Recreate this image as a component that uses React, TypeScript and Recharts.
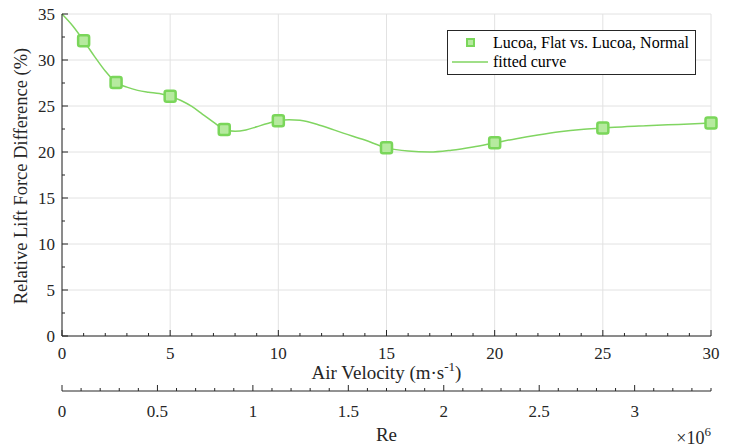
import React from "react";
import {
  ComposedChart,
  Line,
  Scatter,
  XAxis,
  YAxis,
  CartesianGrid,
  Legend,
} from "recharts";

// measured points
const velocity = [1, 2.5, 5, 7.5, 10, 15, 20, 25, 30];
const liftDiff = [32.1, 27.55, 26.05, 22.45, 23.4, 20.45, 21.0, 22.6, 23.15];

// fitted curve, sampled
const fitVelocity = [
  0, 0.5, 1, 1.5, 2, 2.5, 3, 3.5, 4, 4.5, 5, 5.5, 6, 6.5, 7, 7.5, 8, 8.5, 9, 9.5,
  10, 10.5, 11, 12, 13, 14, 15, 16, 17, 18, 19, 20, 21, 22, 23, 24, 25, 26, 27,
  28, 29, 30,
];
const fitDiff = [
  35, 33.7, 32.1, 30.4, 28.8, 27.55, 27.05, 26.7, 26.5, 26.35, 26.05, 25.6,
  24.95, 24.1, 23.25, 22.45, 22.25, 22.4, 22.75, 23.1, 23.4, 23.5, 23.45, 22.85,
  22.05, 21.3, 20.45, 20.1, 20.0, 20.2, 20.55, 21.0, 21.45, 21.85, 22.2, 22.45,
  22.6, 22.75, 22.85, 22.95, 23.05, 23.15,
];

const velocityMajor = [0, 5, 10, 15, 20, 25, 30];
const diffMajor = [0, 5, 10, 15, 20, 25, 30, 35];
const reMajor = [0, 0.5, 1, 1.5, 2, 2.5, 3];
const reMax = 3.4;

// minor ticks: every 1 m/s, every 2.5 %, every 0.1e6
const velocityTicks = Array.from({ length: 31 }, (_, i) => i);
const diffTicks = Array.from({ length: 15 }, (_, i) => i * 2.5);
const reTicks = Array.from({ length: 35 }, (_, i) => i / 10);

const measured = velocity.map((v, i) => ({ x: v, y: liftDiff[i] }));
const fitted = fitVelocity.map((v, i) => ({ x: v, y: fitDiff[i] }));
// anchors the Re axis so it gets a scale; nothing is drawn for it
const reAnchor = [0, reMax].map((r) => ({ re: r, y: 0 }));

const SERIF = "Liberation Serif, Tinos, Times New Roman, DejaVu Serif, serif";
const AXIS = "#262626";
const GRID = "#e2e2e2";
const LINE = "#80d561";
const MARK_EDGE = "#7ad65a";
const MARK_FILL = "#b6ea9f";

const isMajor = (v: number, list: number[]) =>
  list.some((m) => Math.abs(m - v) < 1e-6);

function VelocityTick({ x, y, payload }: any) {
  const major = isMajor(payload.value, velocityMajor);
  return (
    <g>
      <line x1={x} y1={y} x2={x} y2={y - (major ? 6 : 3)} stroke={AXIS} />
      {major && (
        <text x={x} y={y + 23} textAnchor="middle" style={{ fontFamily: SERIF }} fontSize={17} fill={AXIS}>
          {payload.value}
        </text>
      )}
    </g>
  );
}

function ReTick({ x, y, payload }: any) {
  const major = isMajor(payload.value, reMajor);
  return (
    <g>
      <line x1={x} y1={y} x2={x} y2={y - (major ? 6 : 3)} stroke={AXIS} />
      {major && (
        <text x={x} y={y + 26} textAnchor="middle" style={{ fontFamily: SERIF }} fontSize={17} fill={AXIS}>
          {payload.value}
        </text>
      )}
    </g>
  );
}

function DiffTick({ x, y, payload }: any) {
  const major = isMajor(payload.value, diffMajor);
  return (
    <g>
      <line x1={x} y1={y} x2={x + (major ? 6 : 3)} y2={y} stroke={AXIS} />
      {major && (
        <text x={x - 7} y={y} dy="0.35em" textAnchor="end" style={{ fontFamily: SERIF }} fontSize={17} fill={AXIS}>
          {payload.value}
        </text>
      )}
    </g>
  );
}

function SquareMarker({ cx, cy }: any) {
  return (
    <rect
      x={cx - 5.5}
      y={cy - 5.5}
      width={11}
      height={11}
      rx={2}
      fill={MARK_FILL}
      stroke={MARK_EDGE}
      strokeWidth={2.5}
    />
  );
}

function LegendBox() {
  return (
    <div
      style={{
        border: `1px solid ${AXIS}`,
        background: "#fff",
        padding: "2px 6px 3px 0",
        fontFamily: SERIF,
        fontSize: 16,
        color: "#000",
        lineHeight: "19px",
      }}
    >
      <div style={{ display: "flex", alignItems: "center" }}>
        <svg width={45} height={19}>
          <rect x={19} y={6} width={7} height={7} fill={MARK_FILL} stroke={MARK_EDGE} strokeWidth={2} />
        </svg>
        <span>Lucoa, Flat vs. Lucoa, Normal</span>
      </div>
      <div style={{ display: "flex", alignItems: "center" }}>
        <svg width={45} height={19}>
          <line x1={4} y1={10} x2={40} y2={10} stroke={LINE} strokeWidth={1.5} />
        </svg>
        <span>fitted curve</span>
      </div>
    </div>
  );
}

export default function App() {
  return (
    <div style={{ position: "absolute", left: 0, top: 0, background: "#fff", fontFamily: SERIF }}>
      <ComposedChart width={733} height={448} margin={{ top: 14, right: 22, bottom: 7, left: 0 }}>
        <CartesianGrid
          stroke={GRID}
          horizontalValues={diffMajor}
          verticalValues={velocityMajor}
        />
        <XAxis
          xAxisId={0}
          dataKey="x"
          type="number"
          domain={[0, 30]}
          ticks={velocityTicks}
          interval={0}
          tickSize={0}
          tickMargin={0}
          tick={<VelocityTick />}
          stroke={AXIS}
          height={55}
          label={{
            content: ({ viewBox }: any) => (
              <text
                x={viewBox.x + viewBox.width / 2}
                y={viewBox.y + 43}
                textAnchor="middle"
                style={{ fontFamily: SERIF }}
                fontSize={19}
                fill={AXIS}
              >
                Air Velocity (m·s
                <tspan dy={-8} fontSize={13}>-1</tspan>
                <tspan dy={8}>)</tspan>
              </text>
            ),
          }}
        />
        <XAxis
          xAxisId="re"
          dataKey="re"
          type="number"
          domain={[0, reMax]}
          allowDataOverflow
          ticks={reTicks}
          interval={0}
          tickSize={0}
          tickMargin={0}
          tick={<ReTick />}
          stroke={AXIS}
          height={50}
          label={{
            content: ({ viewBox }: any) => (
              <g>
                <text
                  x={viewBox.x + viewBox.width / 2}
                  y={viewBox.y + 50}
                  textAnchor="middle"
                  style={{ fontFamily: SERIF }}
                  fontSize={19}
                  fill={AXIS}
                >
                  Re
                </text>
                <text
                  x={viewBox.x + viewBox.width}
                  y={viewBox.y + 53}
                  textAnchor="end"
                  style={{ fontFamily: SERIF }}
                  fontSize={18}
                  fill={AXIS}
                >
                  ×10
                  <tspan dy={-8} fontSize={13}>6</tspan>
                </text>
              </g>
            ),
          }}
        />
        <YAxis
          type="number"
          domain={[0, 35]}
          ticks={diffTicks}
          interval={0}
          tickSize={0}
          tickMargin={0}
          tick={<DiffTick />}
          stroke={AXIS}
          width={62}
          label={{
            content: () => {
              const cx = 27;
              const cy = 176;
              return (
                <text
                  x={cx}
                  y={cy}
                  transform={`rotate(-90, ${cx}, ${cy})`}
                  textAnchor="middle"
                  style={{ fontFamily: SERIF }}
                  fontSize={18.5}
                  fill={AXIS}
                >
                  Relative Lift Force Difference (%)
                </text>
              );
            },
          }}
        />
        <Legend
          layout="vertical"
          align="center"
          verticalAlign="middle"
          content={<LegendBox />}
          wrapperStyle={{ left: 447, top: 30, width: "auto", height: "auto" }}
        />
        <Scatter
          xAxisId="re"
          data={reAnchor}
          dataKey="y"
          shape={() => <g />}
          legendType="none"
          isAnimationActive={false}
        />
        <Line
          data={fitted}
          dataKey="y"
          type="monotone"
          stroke={LINE}
          strokeWidth={1.5}
          dot={false}
          activeDot={false}
          isAnimationActive={false}
        />
        <Scatter
          data={measured}
          dataKey="y"
          shape={<SquareMarker />}
          isAnimationActive={false}
        />
      </ComposedChart>
    </div>
  );
}
